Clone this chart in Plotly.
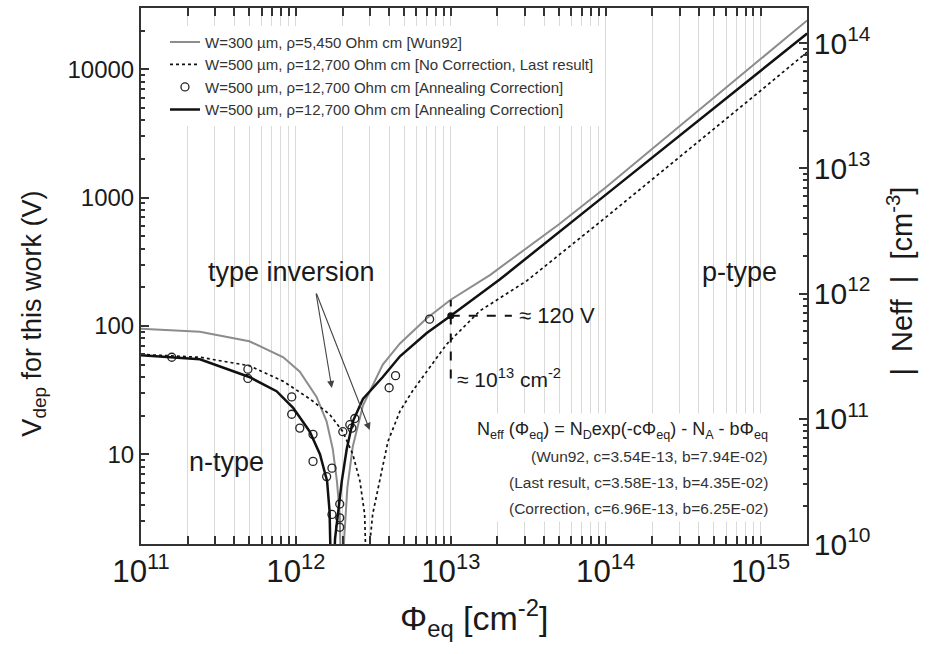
import math
import plotly.graph_objects as go

# Fluence (cm^-2) and depletion voltage (V) along each curve
PHI_WUN92 = [1e11, 2.4e11, 5e11, 8.3e11, 1.06e12, 1.36e12, 1.58e12, 1.73e12, 1.84e12, 1.92e12,
             1.98e12, 2.05e12, 2.15e12, 2.33e12, 2.71e12, 3.64e12, 4.7e12, 7e12, 1e13, 1.8e13,
             5e13, 1e14, 1e15, 2e15]
V_WUN92 = [95, 90, 76, 57, 44, 28, 18, 11, 6.2, 3.4,
           0.5, 2.2, 5.5, 11.5, 24, 50, 73, 115, 160, 250,
           620, 1200, 12000, 24000]

PHI_LAST = [1e11, 2.4e11, 5e11, 8.3e11, 1.23e12, 1.65e12, 2.01e12, 2.33e12, 2.59e12, 2.78e12,
            2.9e12, 3.0e12, 3.13e12, 3.47e12, 3.93e12, 4.7e12, 5.65e12, 9.4e12, 1.54e13, 3.1e13,
            1e14, 1e15, 2e15]
V_LAST = [60, 57, 49, 37, 27, 20.5, 15, 10, 6.2, 3.4,
          0.5, 2.0, 3.4, 6.2, 12.6, 21.7, 31, 72, 131, 225,
          700, 6800, 13600]

PHI_CORR = [1e11, 2.4e11, 5e11, 7.5e11, 9.6e11, 1.23e12, 1.43e12, 1.59e12, 1.65e12, 1.71e12,
            1.79e12, 1.87e12, 1.98e12, 2.13e12, 2.33e12, 2.71e12, 3.64e12, 4.7e12, 7e12, 1e13,
            2.07e13, 1e14, 1e15, 2e15]
V_CORR = [59, 55, 40, 31, 23, 15, 10, 6.2, 3.6, 0.5,
          2.2, 3.6, 6.2, 11, 18, 27, 40, 58, 88, 120,
          230, 1050, 9800, 19000]

# Measured points after annealing correction
PHI_MEAS = [1.58e11, 4.9e11, 4.9e11, 9.4e11, 9.4e11, 1.06e12, 1.29e12, 1.29e12, 1.58e12, 1.71e12,
            1.71e12, 1.92e12, 1.92e12, 1.92e12, 2.01e12, 2.23e12, 2.3e12, 2.4e12, 4.0e12, 4.4e12,
            7.3e12]
V_MEAS = [57, 46, 39, 28, 20.5, 16, 14.3, 8.8, 6.7, 7.8,
          3.4, 4.1, 3.2, 2.7, 15, 17, 16, 19, 33, 41,
          113]

# Marked operating point
PHI_MARK = 1e13
V_MARK = 120
V_MARK_SPAN = [39, 159]
PHI_MARK_END = 2.48e13

FONT = "Arial, Liberation Sans, sans-serif"
INK = "#1a1a1a"
AXIS = "#333333"
GRID = "#dadada"

fig = go.Figure()

fig.add_trace(go.Scatter(
    x=PHI_WUN92, y=V_WUN92, mode="lines",
    line=dict(color="#8c8c8c", width=2),
    name="W=300 µm, ρ=5,450 Ohm cm [Wun92]"))
fig.add_trace(go.Scatter(
    x=PHI_LAST, y=V_LAST, mode="lines",
    line=dict(color="#111111", width=1.7, dash="dot"),
    name="W=500 µm, ρ=12,700 Ohm cm [No Correction, Last result]"))
fig.add_trace(go.Scatter(
    x=PHI_MEAS, y=V_MEAS, mode="markers",
    marker=dict(symbol="circle-open", size=8, color="#222222", line=dict(width=1.3)),
    name="W=500 µm, ρ=12,700 Ohm cm [Annealing Correction]"))
fig.add_trace(go.Scatter(
    x=PHI_CORR, y=V_CORR, mode="lines",
    line=dict(color="#111111", width=2.5),
    name="W=500 µm, ρ=12,700 Ohm cm [Annealing Correction]"))

# dashed cross-hair at the marked point
fig.add_trace(go.Scatter(
    x=[PHI_MARK, PHI_MARK], y=V_MARK_SPAN, mode="lines",
    line=dict(color="#111111", width=2, dash="dash"), showlegend=False, hoverinfo="skip"))
fig.add_trace(go.Scatter(
    x=[PHI_MARK, PHI_MARK_END], y=[V_MARK, V_MARK], mode="lines",
    line=dict(color="#111111", width=2, dash="dash"), showlegend=False, hoverinfo="skip"))
fig.add_trace(go.Scatter(
    x=[PHI_MARK], y=[V_MARK], mode="markers",
    marker=dict(size=7, color="#111111"), showlegend=False, hoverinfo="skip"))

# right-hand |Neff| axis
fig.add_trace(go.Scatter(x=[None], y=[None], yaxis="y2", showlegend=False, hoverinfo="skip"))

fig.update_layout(
    width=930, height=654,
    margin=dict(l=141, r=123, t=8, b=110),
    paper_bgcolor="white", plot_bgcolor="white",
    font=dict(family=FONT, color=INK),
    showlegend=True,
    legend=dict(x=0.036, y=0.967, xanchor="left", yanchor="top",
                bgcolor="white", borderwidth=0, itemwidth=30,
                font=dict(family=FONT, size=15, color="#333333")),
    xaxis=dict(
        type="log", range=[11, 15.3], automargin=False,
        tickmode="linear", tick0=0, dtick=1,
        exponentformat="power", showexponent="all",
        ticks="inside", ticklen=8, tickwidth=1.5, tickcolor=AXIS,
        showline=True, linecolor=AXIS, linewidth=2, mirror="allticks",
        showgrid=True, gridcolor=GRID, gridwidth=1,
        minor=dict(dtick="D1", ticks="inside", ticklen=4, tickcolor=AXIS,
                   showgrid=True, gridcolor=GRID, gridwidth=1),
        tickfont=dict(family=FONT, size=25, color=INK),
        zeroline=False),
    yaxis=dict(
        type="log", range=[math.log10(2), math.log10(30000)], automargin=False,
        tickmode="linear", tick0=0, dtick=1, tickformat="d",
        ticks="inside", ticklen=8, tickwidth=1.5, tickcolor=AXIS,
        showline=True, linecolor=AXIS, linewidth=2,
        showgrid=False,
        minor=dict(dtick="D1", ticks="inside", ticklen=4, tickcolor=AXIS, showgrid=False),
        tickfont=dict(family=FONT, size=24, color=INK),
        zeroline=False),
    yaxis2=dict(
        type="log", range=[10, 14.28], overlaying="y", side="right", automargin=False,
        tickmode="linear", tick0=0, dtick=1,
        exponentformat="power", showexponent="all",
        ticks="inside", ticklen=8, tickwidth=1.5, tickcolor=AXIS,
        showline=True, linecolor=AXIS, linewidth=2,
        showgrid=False,
        minor=dict(dtick="D1", ticks="inside", ticklen=4, tickcolor=AXIS, showgrid=False),
        tickfont=dict(family=FONT, size=24, color=INK),
        zeroline=False),
)

L = math.log10
notes = []

# axis titles
notes += [
    dict(xref="paper", yref="paper", x=0.5, y=-0.138, xanchor="center", yanchor="middle",
         showarrow=False, text="Φ<sub>eq</sub> [cm<sup>-2</sup>]", font=dict(size=34, color=INK)),
    dict(xref="paper", yref="paper", x=-0.162, y=0.43, xanchor="center", yanchor="middle",
         showarrow=False, textangle=-90,
         text="V<sub>dep</sub> for this work (V)", font=dict(size=27, color=INK)),
    dict(xref="paper", yref="paper", x=1.14, y=0.49, xanchor="center", yanchor="middle",
         showarrow=False, textangle=-90,
         text="|  Neff  |  [cm<sup>-3</sup>]", font=dict(size=29, color=INK)),
]

# type inversion arrows
for head_phi, head_v in [(10 ** 12.232, 10 ** 1.516), (10 ** 12.477, 10 ** 1.189)]:
    notes.append(dict(x=L(head_phi), y=L(head_v), ax=12.129, ay=2.264,
                      xref="x", yref="y", axref="x", ayref="y", text="",
                      showarrow=True, arrowhead=2, arrowsize=1.3, arrowwidth=1.1,
                      arrowcolor="#444444"))

notes += [
    dict(x=11.974, y=2.42, text="type inversion", showarrow=False,
         font=dict(size=27, color=INK)),
    dict(x=11.555, y=0.94, text="n-type", showarrow=False,
         font=dict(size=27, color=INK)),
    dict(x=14.865, y=2.42, text="p-type", showarrow=False,
         font=dict(size=27, color=INK)),
    dict(x=13.426, y=L(V_MARK), text="≈ 120 V", showarrow=False, xanchor="left",
         font=dict(size=22, color=INK)),
    dict(x=13.026, y=1.594, text="≈ 10<sup>13</sup> cm<sup>-2</sup>", showarrow=False,
         xanchor="left", font=dict(size=21, color=INK)),
    # white panel behind the parametrisation text
    dict(x=14.09, y=0.897, text=" ", showarrow=False, width=322, height=105,
         bgcolor="white"),
    dict(x=15.058, y=1.189, xanchor="right", showarrow=False,
         text="N<sub>eff</sub> (Φ<sub>eq</sub>) = N<sub>D</sub>exp(-cΦ<sub>eq</sub>) - N<sub>A</sub> - bΦ<sub>eq</sub>",
         font=dict(size=18, color="#222222")),
    dict(x=15.058, y=0.979, xanchor="right", showarrow=False,
         text="(Wun92, c=3.54E-13, b=7.94E-02)", font=dict(size=15.5, color="#333333")),
    dict(x=15.058, y=0.784, xanchor="right", showarrow=False,
         text="(Last result, c=3.58E-13, b=4.35E-02)", font=dict(size=15.5, color="#333333")),
    dict(x=15.058, y=0.581, xanchor="right", showarrow=False,
         text="(Correction, c=6.96E-13, b=6.25E-02)", font=dict(size=15.5, color="#333333")),
]
fig.update_layout(annotations=notes)

fig.write_html("out.html")
